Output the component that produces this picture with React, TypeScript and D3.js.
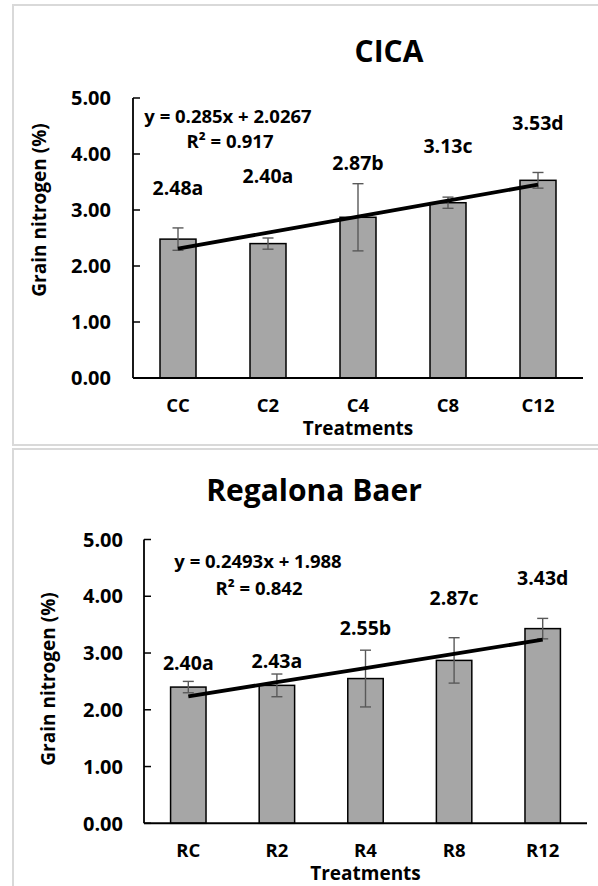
import React from "react";
import { scaleBand, scaleLinear, line, range } from "d3";

// CICA panel
const cicaCategories = ["CC", "C2", "C4", "C8", "C12"];
const cicaMeans = [2.48, 2.4, 2.87, 3.13, 3.53];
const cicaErrors = [0.2, 0.1, 0.6, 0.1, 0.14];
const cicaLetters = ["a", "a", "b", "c", "d"];
const cicaLabelAt = [3.27, 3.48, 3.71, 4.02, 4.43];
const cicaTrend = { slope: 0.285, intercept: 2.0267, r2: 0.917 };

// Regalona Baer panel
const regCategories = ["RC", "R2", "R4", "R8", "R12"];
const regMeans = [2.4, 2.43, 2.55, 2.87, 3.43];
const regErrors = [0.1, 0.2, 0.5, 0.4, 0.18];
const regLetters = ["a", "a", "b", "c", "d"];
const regLabelAt = [2.7, 2.74, 3.32, 3.85, 4.2];
const regTrend = { slope: 0.2493, intercept: 1.988, r2: 0.842 };

const yTicks = [0, 1, 2, 3, 4, 5];

const FONT = "'Open Sans', 'DejaVu Sans', sans-serif";

const Panel = ({ cfg }) => {
  const {
    title, categories, means, errors, letters, labelAt, trend,
    left, right, top, bottom, titleX, titleY, eqX, eqY, r2X, r2Y,
    yTitleX, yTitleY, tickLabelX, catY, xTitleY, eqText,
  } = cfg;

  const x = scaleBand()
    .domain(categories)
    .range([left, right])
    .paddingInner(0.6)
    .paddingOuter(0.3);
  const y = scaleLinear().domain([0, 5]).range([bottom, top]);
  const cx = (c) => x(c) + x.bandwidth() / 2;

  const trendPath = line()
    .x((i) => cx(categories[i]))
    .y((i) => y(trend.slope * (i + 1) + trend.intercept))(range(categories.length));

  return (
    <g fontFamily={FONT} fontWeight="bold" fill="#000">
      <text x={titleX} y={titleY} fontSize={30} textAnchor="middle">{title}</text>

      {/* y axis */}
      <line x1={left} x2={left} y1={top} y2={bottom} stroke="#000" strokeWidth={1.8} />
      {yTicks.map((t) => (
        <g key={t}>
          <line x1={left} x2={left + 7} y1={y(t)} y2={y(t)} stroke="#000" strokeWidth={1.5} />
          <text x={tickLabelX} y={y(t)} dy="0.36em" fontSize={20} textAnchor="end">
            {t.toFixed(2)}
          </text>
        </g>
      ))}
      <text
        transform={`translate(${yTitleX},${yTitleY}) rotate(-90)`}
        fontSize={19}
        textAnchor="middle"
        dy="0.36em"
      >
        Grain nitrogen (%)
      </text>

      {/* bars */}
      {categories.map((c, i) => (
        <rect
          key={c}
          x={x(c)}
          y={y(means[i])}
          width={x.bandwidth()}
          height={y(0) - y(means[i])}
          fill="#a6a6a6"
          stroke="#000"
          strokeWidth={1.5}
        />
      ))}

      {/* error bars */}
      {categories.map((c, i) => {
        const hi = y(means[i] + errors[i]);
        const lo = y(means[i] - errors[i]);
        return (
          <g key={c} stroke="#595959" strokeWidth={1.4}>
            <line x1={cx(c)} x2={cx(c)} y1={hi} y2={lo} />
            <line x1={cx(c) - 5.5} x2={cx(c) + 5.5} y1={hi} y2={hi} />
            <line x1={cx(c) - 5.5} x2={cx(c) + 5.5} y1={lo} y2={lo} />
          </g>
        );
      })}

      {/* x axis */}
      <line x1={left} x2={right} y1={bottom} y2={bottom} stroke="#000" strokeWidth={2} />
      {categories.map((c) => (
        <text key={c} x={cx(c)} y={catY} fontSize={18.5} textAnchor="middle">{c}</text>
      ))}
      <text x={(left + right) / 2} y={xTitleY} fontSize={19} textAnchor="middle">Treatments</text>

      {/* trendline */}
      <path d={trendPath} fill="none" stroke="#000" strokeWidth={3.8} />
      <text x={eqX} y={eqY} fontSize={18.5} textAnchor="middle">{eqText}</text>
      <text x={r2X} y={r2Y} fontSize={18.5} textAnchor="middle">{`R² = ${trend.r2.toFixed(3)}`}</text>

      {/* significance labels */}
      {categories.map((c, i) => (
        <text key={c} x={cx(c)} y={y(labelAt[i])} fontSize={19.5} textAnchor="middle">
          {means[i].toFixed(2) + letters[i]}
        </text>
      ))}
    </g>
  );
};

const panels = [
  {
    title: "CICA",
    categories: cicaCategories,
    means: cicaMeans,
    errors: cicaErrors,
    letters: cicaLetters,
    labelAt: cicaLabelAt,
    trend: cicaTrend,
    eqText: "y = 0.285x + 2.0267",
    left: 133, right: 583, top: 98, bottom: 378,
    titleX: 389, titleY: 62,
    eqX: 228, eqY: 123, r2X: 230, r2Y: 148,
    yTitleX: 39, yTitleY: 210,
    tickLabelX: 111, catY: 412, xTitleY: 435,
  },
  {
    title: "Regalona Baer",
    categories: regCategories,
    means: regMeans,
    errors: regErrors,
    letters: regLetters,
    labelAt: regLabelAt,
    trend: regTrend,
    eqText: "y = 0.2493x + 1.988",
    left: 144, right: 587, top: 539.5, bottom: 823.3,
    titleX: 314, titleY: 501,
    eqX: 258, eqY: 568, r2X: 259, r2Y: 595,
    yTitleX: 48, yTitleY: 679,
    tickLabelX: 123, catY: 857, xTitleY: 880,
  },
];

export default function App() {
  return (
    <svg
      width={598}
      height={886}
      style={{ position: "absolute", left: 0, top: 0, background: "#fff" }}
    >
      <rect x={0} y={0} width={598} height={886} fill="#fff" />
      {/* chart frames, cropped at the right edge */}
      <rect x={13} y={5} width={600} height={440} fill="none" stroke="#d9d9d9" strokeWidth={2} />
      <rect x={13} y={449} width={600} height={445} fill="none" stroke="#d9d9d9" strokeWidth={2} />
      {panels.map((p) => (
        <Panel key={p.title} cfg={p} />
      ))}
    </svg>
  );
}
